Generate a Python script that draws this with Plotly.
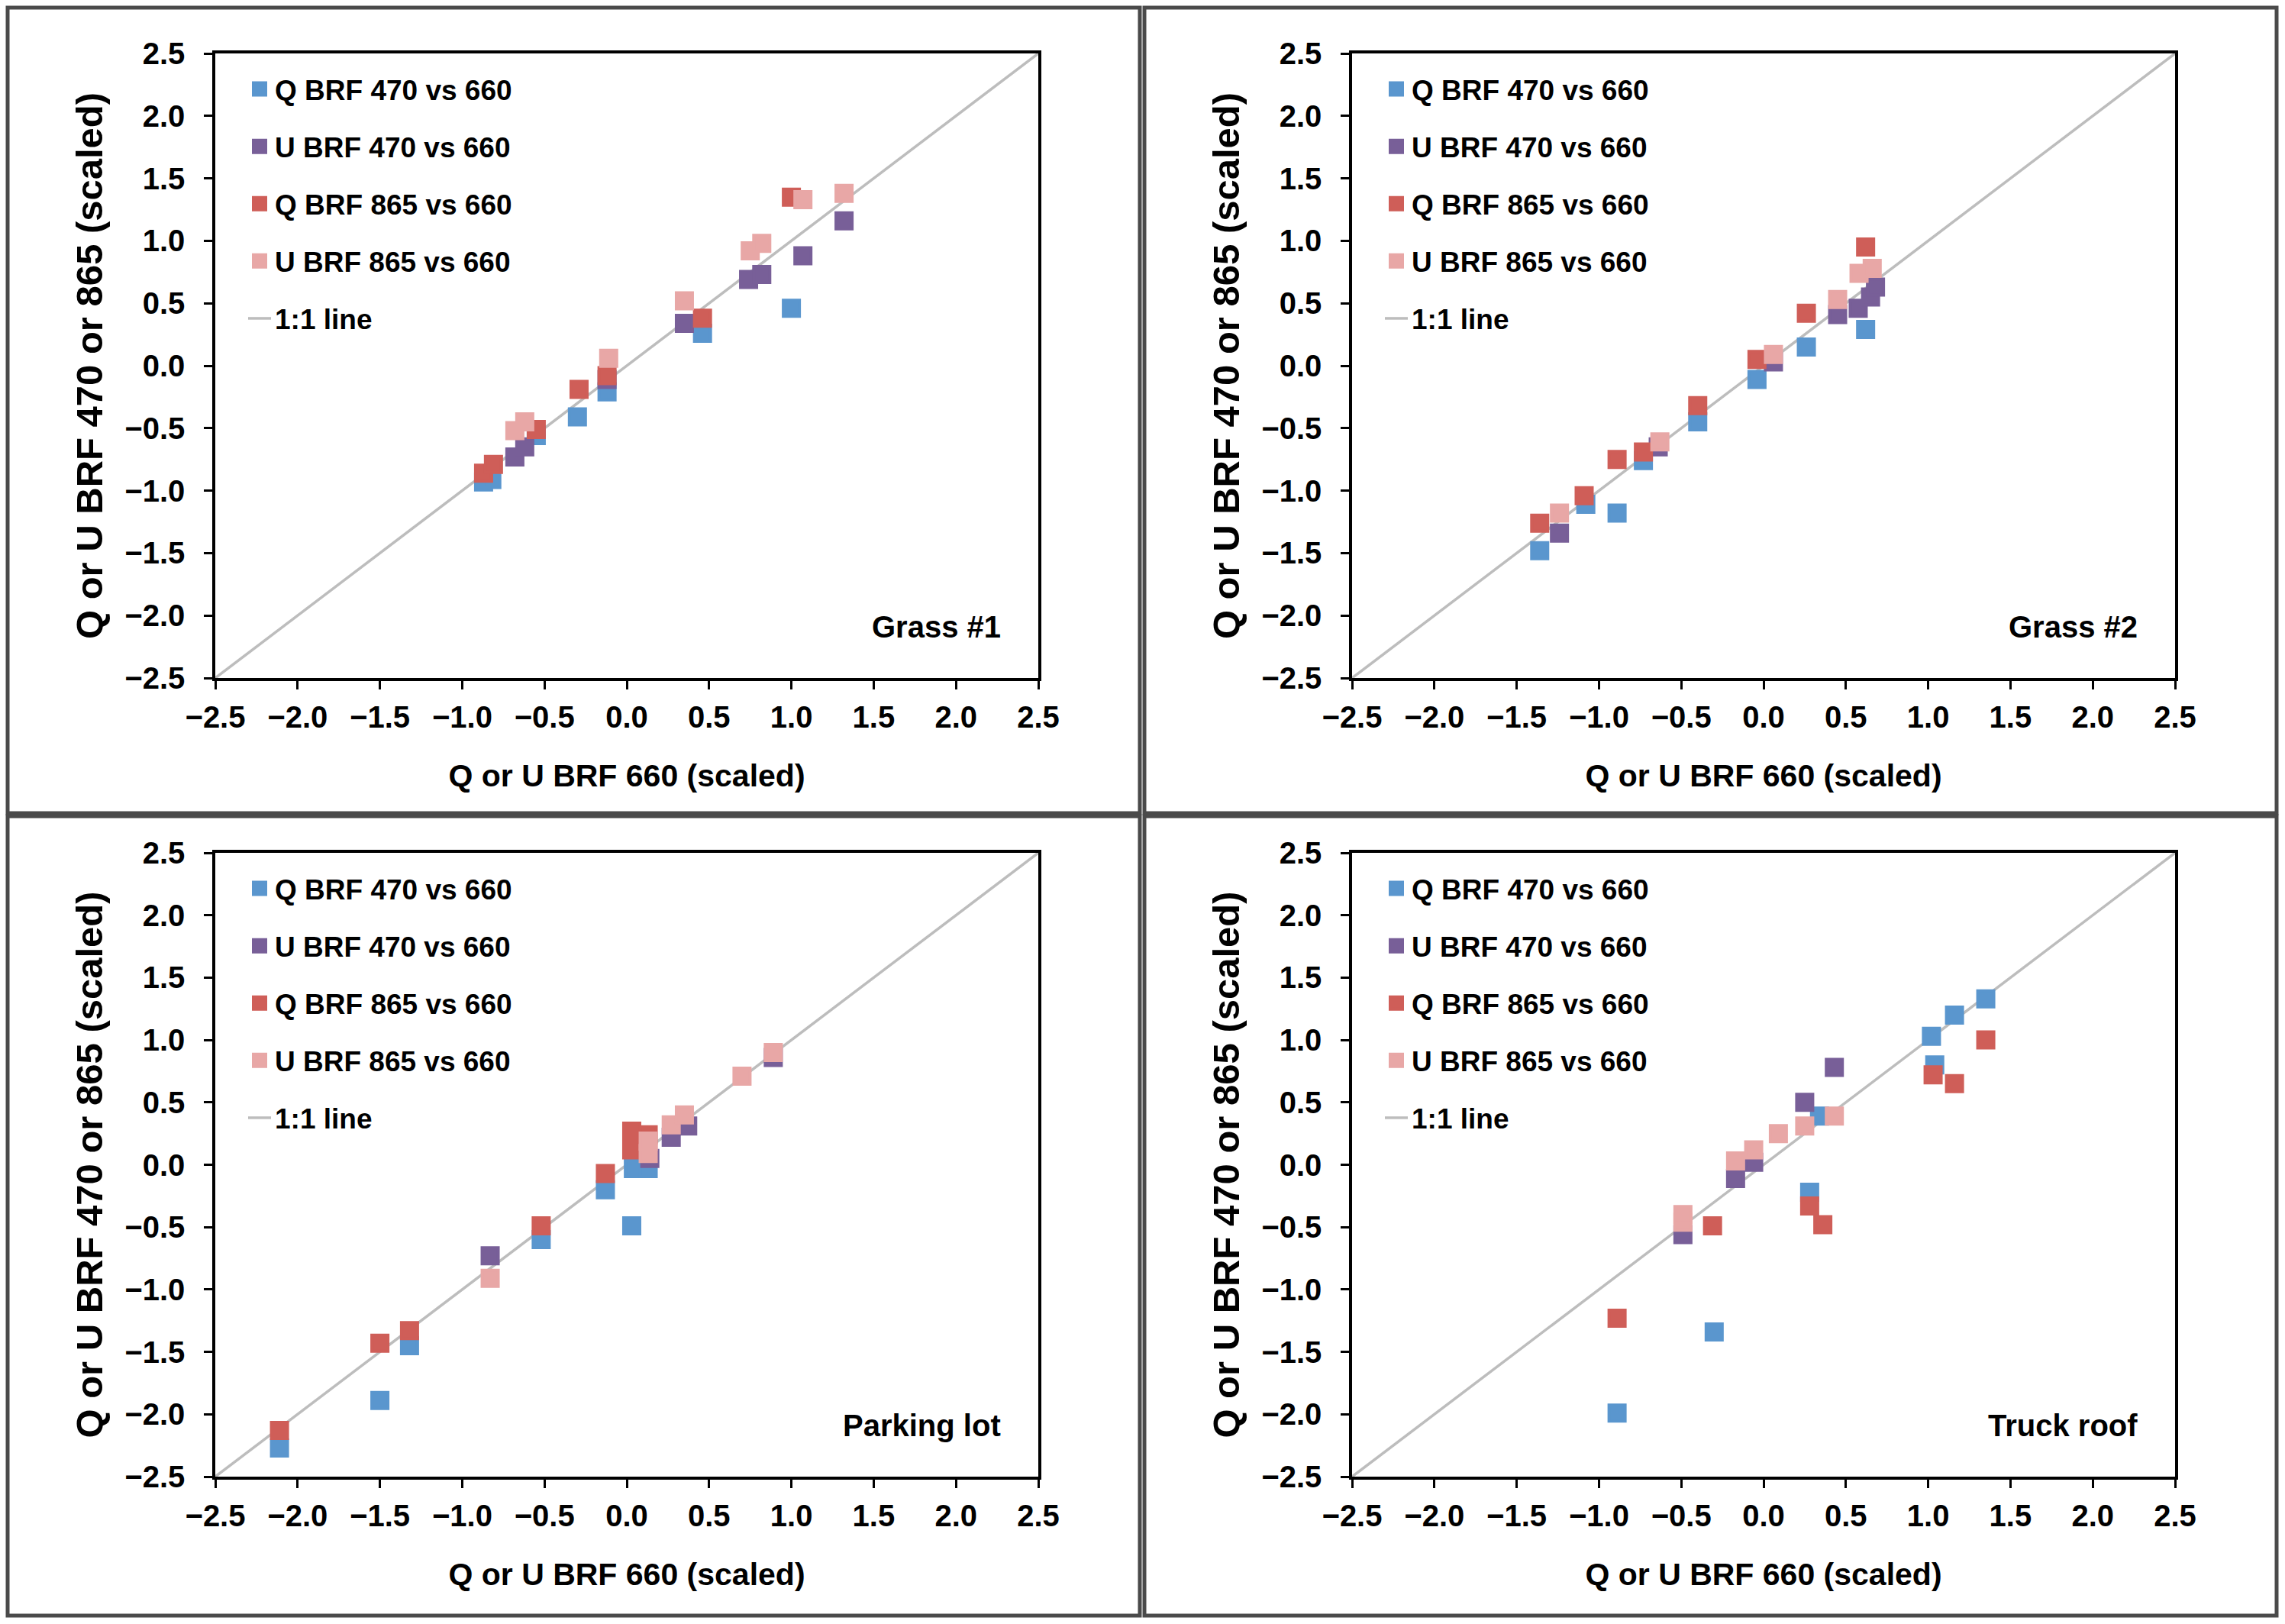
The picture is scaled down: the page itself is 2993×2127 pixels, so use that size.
import plotly.graph_objects as go

# ---------------- data ----------------
PANEL_NAMES = ["Grass #1", "Grass #2", "Parking lot", "Truck roof"]
SERIES_NAMES = ["Q BRF 470 vs 660", "U BRF 470 vs 660", "Q BRF 865 vs 660", "U BRF 865 vs 660"]
LINE_NAME = "1:1 line"
TICK_VALUES = [-2.5, -2.0, -1.5, -1.0, -0.5, 0.0, 0.5, 1.0, 1.5, 2.0, 2.5]
AXIS_RANGE = [-2.5, 2.5]

# Grass #1
grass1_q470_x = [-0.87, -0.82, -0.55, -0.30, -0.12, 0.46, 1.00]
grass1_q470_y = [-0.93, -0.91, -0.56, -0.41, -0.21, 0.26, 0.46]
grass1_u470_x = [-0.68, -0.62, -0.12, 0.35, 0.74, 0.82, 1.07, 1.32]
grass1_u470_y = [-0.73, -0.65, -0.11, 0.34, 0.69, 0.73, 0.88, 1.16]
grass1_q865_x = [-0.87, -0.81, -0.55, -0.29, -0.12, 0.46, 1.00]
grass1_q865_y = [-0.86, -0.79, -0.51, -0.19, -0.08, 0.38, 1.35]
grass1_u865_x = [-0.68, -0.62, -0.11, 0.35, 0.75, 0.82, 1.07, 1.32]
grass1_u865_y = [-0.52, -0.45, 0.06, 0.52, 0.92, 0.98, 1.33, 1.38]

# Grass #2
grass2_q470_x = [-1.36, -1.08, -0.89, -0.73, -0.40, -0.04, 0.26, 0.62]
grass2_q470_y = [-1.48, -1.11, -1.18, -0.76, -0.45, -0.11, 0.15, 0.29]
grass2_u470_x = [-1.24, -0.64, 0.06, 0.45, 0.575, 0.65, 0.68]
grass2_u470_y = [-1.34, -0.65, 0.03, 0.41, 0.46, 0.55, 0.63]
grass2_q865_x = [-1.36, -1.09, -0.89, -0.73, -0.40, -0.04, 0.26, 0.62]
grass2_q865_y = [-1.26, -1.04, -0.75, -0.69, -0.32, 0.05, 0.42, 0.95]
grass2_u865_x = [-1.24, -0.63, 0.06, 0.45, 0.58, 0.66]
grass2_u865_y = [-1.18, -0.61, 0.09, 0.53, 0.74, 0.78]

# Parking lot
parking_q470_x = [-2.11, -1.50, -1.32, -0.52, -0.13, 0.03, 0.04, 0.13]
parking_q470_y = [-2.27, -1.89, -1.45, -0.60, -0.20, -0.49, -0.03, -0.03]
parking_u470_x = [-0.83, 0.14, 0.27, 0.37, 0.89]
parking_u470_y = [-0.73, 0.05, 0.22, 0.31, 0.86]
parking_q865_x = [-2.11, -1.50, -1.32, -0.52, -0.13, 0.03, 0.03, 0.13]
parking_q865_y = [-2.13, -1.43, -1.33, -0.49, -0.07, 0.27, 0.12, 0.24]
parking_u865_x = [-0.83, 0.13, 0.13, 0.27, 0.35, 0.70, 0.89]
parking_u865_y = [-0.91, 0.09, 0.19, 0.32, 0.40, 0.71, 0.90]

# Truck roof
truck_q470_x = [-0.89, -0.30, 0.28, 0.34, 1.02, 1.04, 1.16, 1.35]
truck_q470_y = [-1.99, -1.34, -0.22, 0.39, 1.03, 0.80, 1.20, 1.33]
truck_u470_x = [-0.49, -0.17, -0.06, 0.25, 0.43]
truck_u470_y = [-0.56, -0.11, 0.02, 0.50, 0.78]
truck_q865_x = [-0.89, -0.31, 0.28, 0.36, 1.03, 1.16, 1.35]
truck_q865_y = [-1.23, -0.49, -0.33, -0.48, 0.72, 0.65, 1.00]
truck_u865_x = [-0.49, -0.49, -0.17, -0.06, 0.09, 0.25, 0.43]
truck_u865_y = [-0.46, -0.40, 0.03, 0.12, 0.25, 0.31, 0.39]

# ---------------- styling ----------------
SERIES_COLORS = ["#5A96CE", "#785F98", "#CF5E58", "#E8A7A6"]
LINE_COLOR = "#BDBDBD"
FONT = "Liberation Sans, Arial, Helvetica, sans-serif"
W, H = 2993, 2127

panels = [
    [(grass1_q470_x, grass1_q470_y), (grass1_u470_x, grass1_u470_y),
     (grass1_q865_x, grass1_q865_y), (grass1_u865_x, grass1_u865_y)],
    [(grass2_q470_x, grass2_q470_y), (grass2_u470_x, grass2_u470_y),
     (grass2_q865_x, grass2_q865_y), (grass2_u865_x, grass2_u865_y)],
    [(parking_q470_x, parking_q470_y), (parking_u470_x, parking_u470_y),
     (parking_q865_x, parking_q865_y), (parking_u865_x, parking_u865_y)],
    [(truck_q470_x, truck_q470_y), (truck_u470_x, truck_u470_y),
     (truck_q865_x, truck_q865_y), (truck_u865_x, truck_u865_y)],
]

# pixel layout (canvas pixels)
col_x = [(282, 1360), (1771, 2849)]
row_y = [(70, 888), (1117, 1934)]
box_x = [(10, 1493), (1499, 2982)]
box_y = [(10, 1065), (1069, 2116)]

def px_x(p):
    return p / W

def px_y(p):
    return 1 - p / H

fig = go.Figure()
layout = dict(
    width=W, height=H,
    margin=dict(l=0, r=0, t=0, b=0, autoexpand=False),
    paper_bgcolor="white", plot_bgcolor="white",
    font=dict(family=FONT, color="black", weight="bold"),
    shapes=[], annotations=[],
)

for i, data in enumerate(panels):
    r, c = divmod(i, 2)
    sfx = "" if i == 0 else str(i + 1)
    xa, ya = "x" + sfx, "y" + sfx
    leg = "legend" + sfx

    # 1:1 line (drawn first, listed last in legend)
    fig.add_trace(go.Scatter(
        x=AXIS_RANGE, y=AXIS_RANGE, mode="lines", name=LINE_NAME,
        line=dict(color=LINE_COLOR, width=3.5),
        xaxis=xa, yaxis=ya, legend=leg, legendrank=1005,
        legendgroup=f"p{i}line", hoverinfo="skip"))
    for s, (xs, ys) in enumerate(data):
        fig.add_trace(go.Scatter(
            x=xs, y=ys, mode="markers", name=SERIES_NAMES[s],
            marker=dict(symbol="square", size=21, color=SERIES_COLORS[s],
                        line=dict(width=4, color=SERIES_COLORS[s])),
            xaxis=xa, yaxis=ya, legend=leg, legendrank=1000 + s,
            legendgroup=f"p{i}s{s}"))

    axis_common = dict(
        range=AXIS_RANGE, tickvals=TICK_VALUES, tickformat=".1f",
        showgrid=False, zeroline=False, automargin=False,
        showline=True, mirror=True, linecolor="black", linewidth=3.5,
        ticks="outside", ticklen=11, tickwidth=3, tickcolor="black",
        tickfont=dict(family=FONT, size=40, color="black", weight="bold"),
    )
    layout["xaxis" + sfx] = dict(
        axis_common,
        domain=[px_x(col_x[c][0]), px_x(col_x[c][1])],
        anchor=ya, ticklabelstandoff=2,
        title=dict(text="Q or U BRF 660 (scaled)", standoff=43,
                   font=dict(family=FONT, size=41, color="black", weight="bold")),
    )
    layout["yaxis" + sfx] = dict(
        axis_common,
        domain=[px_y(row_y[r][1]), px_y(row_y[r][0])],
        anchor=xa, ticklabelstandoff=17,
        title=dict(text="Q or U BRF 470 or 865 (scaled)", standoff=14,
                   font=dict(family=FONT, size=49, color="black", weight="bold")),
    )
    layout[leg] = dict(
        x=px_x(col_x[c][0] + 38), y=px_y(row_y[r][0] + 16),
        xanchor="left", yanchor="top",
        bgcolor="rgba(0,0,0,0)", borderwidth=0,
        font=dict(family=FONT, size=37, color="black", weight="bold"),
        tracegroupgap=24, itemsizing="trace",
    )
    layout["annotations"].append(dict(
        text=PANEL_NAMES[i], x=2.28, y=-2.09, xref=xa, yref=ya,
        xanchor="right", yanchor="middle", showarrow=False,
        font=dict(family=FONT, size=40, color="black", weight="bold")))
    layout["shapes"].append(dict(
        type="rect", xref="paper", yref="paper",
        x0=px_x(box_x[c][0]), x1=px_x(box_x[c][1]),
        y0=px_y(box_y[r][1]), y1=px_y(box_y[r][0]),
        line=dict(color="#4A4A4A", width=5), fillcolor="rgba(0,0,0,0)",
        layer="below"))

fig.update_layout(**layout)
fig.write_html(
    "out.html",
    config={"displayModeBar": False},
    post_script="document.body.style.margin='0';document.body.style.overflow='hidden';",
)
